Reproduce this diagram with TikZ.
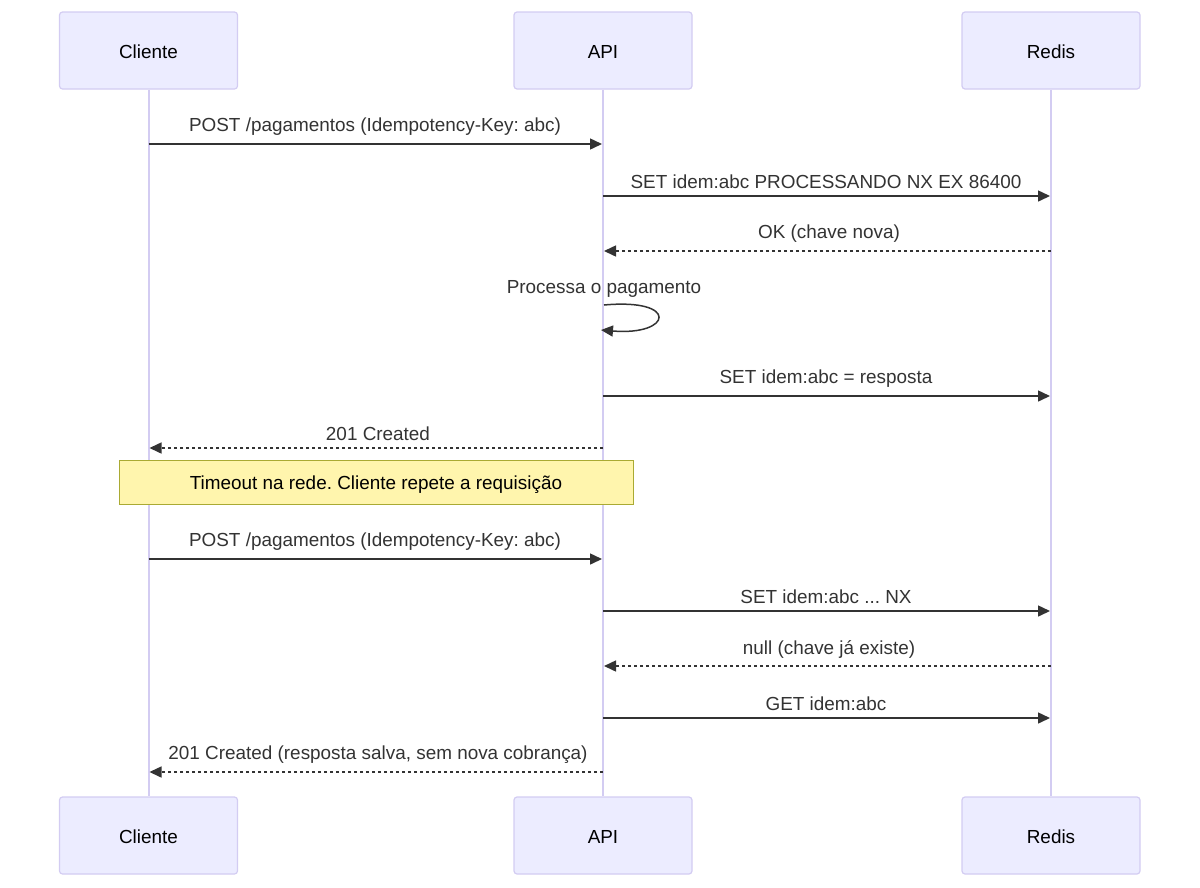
\documentclass[tikz,border=0pt]{standalone}
\usepackage{fontspec}
\setmainfont{Liberation Sans}
\usetikzlibrary{arrows.meta,calc}
\definecolor{actfill}{HTML}{ECECFF}
\definecolor{actline}{HTML}{D3CCF2}
\definecolor{msg}{HTML}{333333}
\definecolor{notefill}{HTML}{FFF5AD}
\definecolor{noteline}{HTML}{AAAA33}
\frenchspacing
\tikzset{
  actor/.style={draw=actline, fill=actfill, line width=1.2pt, rounded corners=3pt,
    minimum width=178pt, minimum height=77pt, inner sep=0pt, font=\fontsize{18.9}{22}\selectfont, text=black,
    text height=16pt, text depth=0pt},
  life/.style={draw=actline, line width=2pt},
  msgline/.style={draw=msg, line width=1.5pt, -{Triangle[length=12pt,width=11pt]}},
  reply/.style={msgline, dash pattern=on 3pt off 3pt},
  lbl/.style={font=\fontsize{18.9}{22}\selectfont, text=msg, inner sep=0pt},
  notebox/.style={draw=noteline, fill=notefill, line width=1pt, minimum width=514pt, minimum height=44pt,
    inner sep=0pt, font=\fontsize{18.9}{22}\selectfont, text=black, text height=16pt, text depth=1.5pt}
}
\begin{document}
\begin{tikzpicture}[x=1pt,y=-1pt]
\useasboundingbox (0,0) rectangle (1200,887);
% actors
\node[actor] (cliT) at (148.5,50.5) {Cliente};
\node[actor] (apiT) at (603,50.5) {API};
\node[actor] (redT) at (1051,50.5) {Redis};
\node[actor] (cliB) at (148.5,835.5) {Cliente};
\node[actor] (apiB) at (603,835.5) {API};
\node[actor] (redB) at (1051,835.5) {Redis};
% lifelines
\draw[life] (cliT.south) -- (cliB.north);
\draw[life] (apiT.south) -- (apiB.north);
\draw[life] (redT.south) -- (redB.north);
% messages
\node[lbl] (l1) at (375,127) {POST /pagamentos (Idempotency-Key: abc)};
\draw[msgline] (cliT |- 0,144) -- ($(apiT |- 0,144)+(-1,0)$);
\node[lbl] (l2) at (826,182) {SET idem:abc PROCESSANDO NX EX 86400};
\draw[msgline] (apiT |- 0,196) -- ($(redT |- 0,196)+(-1,0)$);
\node[lbl] (l3) at (829,234) {OK (chave nova)};
\draw[reply] (redT |- 0,251) -- ($(apiT |- 0,251)+(1,0)$);
\node[lbl] (l4) at (604,289) {Processa o pagamento};
\coordinate (s1) at ($(apiT |- 0,305)+(1,0)$);
\coordinate (s2) at ($(apiT |- 0,330)+(-2,0)$);
\draw[msgline] (s1) .. controls (680,298) and (672,336) .. (s2);
\node[lbl] (l5) at (826,379) {SET idem:abc = resposta};
\draw[msgline] (apiT |- 0,396) -- ($(redT |- 0,396)+(-1,0)$);
\node[lbl] (l6) at (378,434) {201 Created};
\draw[reply] (apiT |- 0,448) -- ($(cliT |- 0,448)+(1,0)$);
\node[notebox] (note) at (376,482) {Timeout na rede. Cliente repete a requisição};
\node[lbl] (l7) at (375,542) {POST /pagamentos (Idempotency-Key: abc)};
\draw[msgline] (cliT |- 0,559) -- ($(apiT |- 0,559)+(-1,0)$);
\node[lbl] (l8) at (826,597) {SET idem:abc ... NX};
\draw[msgline] (apiT |- 0,611) -- ($(redT |- 0,611)+(-1,0)$);
\node[lbl] (l9) at (829,649) {null (chave já existe)};
\draw[reply] (redT |- 0,666) -- ($(apiT |- 0,666)+(1,0)$);
\node[lbl] (l10) at (826,704) {GET idem:abc};
\draw[msgline] (apiT |- 0,718) -- ($(redT |- 0,718)+(-1,0)$);
\node[lbl] (l11) at (378,755) {201 Created (resposta salva, sem nova cobrança)};
\draw[reply] (apiT |- 0,772) -- ($(cliT |- 0,772)+(1,0)$);
\end{tikzpicture}
\end{document}
